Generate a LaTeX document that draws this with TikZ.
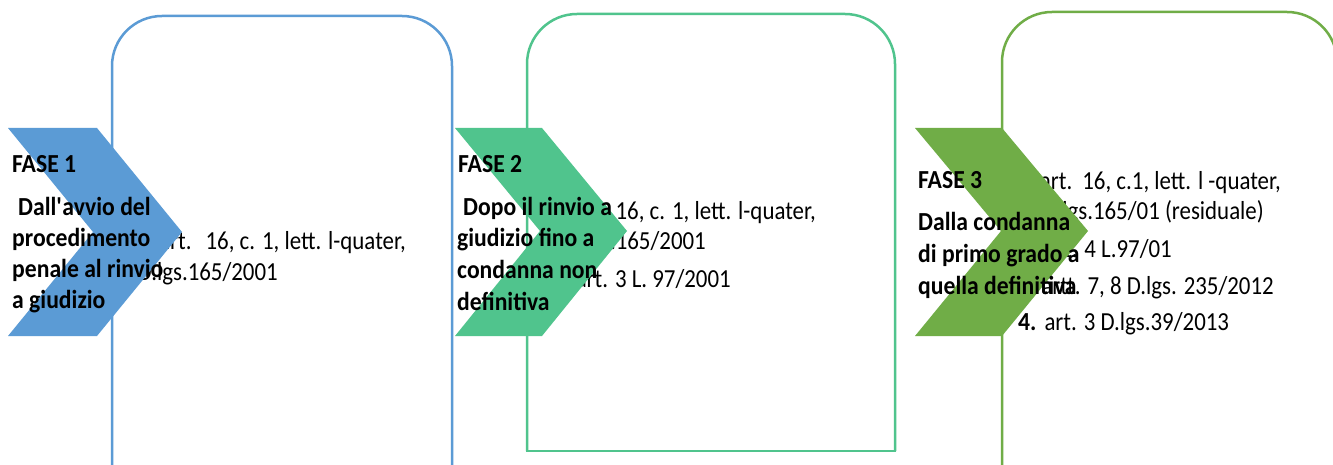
\documentclass[tikz,border=0pt]{standalone}
\usepackage{fontspec}
\setmainfont{Carlito}[FakeStretch=0.88,BoldFeatures={FakeStretch=0.91}]
\definecolor{fblue}{HTML}{5B9BD5}
\definecolor{fmint}{HTML}{50C48D}
\definecolor{fgreen}{HTML}{70AD47}
\begin{document}
\begin{tikzpicture}[x=1pt,y=-1pt,
  frame/.style={line width=2.5pt},
  boxtxt/.style={anchor=base east, inner sep=0pt, font=\fontsize{26}{31}\selectfont},
  boxtxtl/.style={anchor=base west, inner sep=0pt, font=\fontsize{26}{31}\selectfont},
  chevtxt/.style={anchor=base west, inner sep=0pt, font=\bfseries\fontsize{26}{31}\selectfont},
]
\useasboundingbox (0,0) rectangle (1333,465);
\clip (0,0) rectangle (1333,465);
\fill[white] (0,0) rectangle (1333,465);
% frames
\draw[frame, draw=fblue, rounded corners=50pt] (112,500) -- (112,16) -- (452,16) -- (452,500);
\draw[frame, draw=fmint, rounded corners=50pt] (527,451) -- (527,14) -- (895,14) -- (895,451);
\draw[frame, draw=fmint, line cap=rect] (527,451) -- (895,451);
\draw[frame, draw=fgreen, rounded corners=50pt] (1002,500) -- (1002,12) -- (1337,12) -- (1337,500);
% texts inside frames
\node[boxtxt] (b1l1) at (406,249) {art.\hspace{14pt}16, c. 1, lett. l-quater,};
\node[boxtxt] (b1l2) at (278,280) {D.lgs.165/2001};
\node[boxtxt] (b2l1) at (816,220) {art. 16, c. 1, lett. l-quater,};
\node[boxtxt] (b2l2) at (706,250) {D.lgs.165/2001};
\node[boxtxt] (b2l3) at (731,287) {art. 3 L. 97/2001};
\node[boxtxt] (b3l1) at (1281,190) {\textbf{1.} art.\hspace{10pt}16, c.1, lett. l -quater,};
\node[boxtxt] (b3l2) at (1264,220) {D.lgs.165/01 (residuale)};
\node[boxtxt] (b3l3) at (1172,257) {\textbf{2.} art. 4 L.97/01};
\node[boxtxt] (b3l4) at (1274,294) {\textbf{3.} artt. 7, 8 D.lgs. 235/2012};
\node[boxtxtl] (b3l5) at (1018,330) {\textbf{4.}\hspace{8pt}art. 3 D.lgs.39/2013};
% chevrons
\fill[fblue] (8,128) -- (97,128) -- (182,232) -- (97,336) -- (8,336) -- (93,232) -- cycle;
\fill[fmint] (455,128) -- (542,128) -- (627,231) -- (542,336) -- (455,336) -- (540,231) -- cycle;
\fill[fgreen] (915,128) -- (1002,128) -- (1088,231) -- (1002,336) -- (915,336) -- (1001,231) -- cycle;
% chevron texts
\node[chevtxt] (c1a) at (12,173) {FASE 1};
\node[chevtxt] (c1b) at (18,215) {Dall\textquotesingle avvio del};
\node[chevtxt] (c1c) at (12,246) {procedimento};
\node[chevtxt] (c1d) at (12,277) {penale al rinvio};
\node[chevtxt] (c1e) at (12,308) {a giudizio};
\node[chevtxt] (c2a) at (458,173) {FASE 2};
\node[chevtxt] (c2b) at (463,215) {Dopo il rinvio a};
\node[chevtxt] (c2c) at (457,247) {giudizio fino a};
\node[chevtxt] (c2d) at (457,278) {condanna non};
\node[chevtxt] (c2e) at (457,310) {definitiva};
\node[chevtxt] (c3a) at (918,189) {FASE 3};
\node[chevtxt] (c3b) at (918,230) {Dalla condanna};
\node[chevtxt] (c3c) at (918,262) {di primo grado a};
\node[chevtxt] (c3d) at (918,294) {quella definitiva};
\end{tikzpicture}
\end{document}
